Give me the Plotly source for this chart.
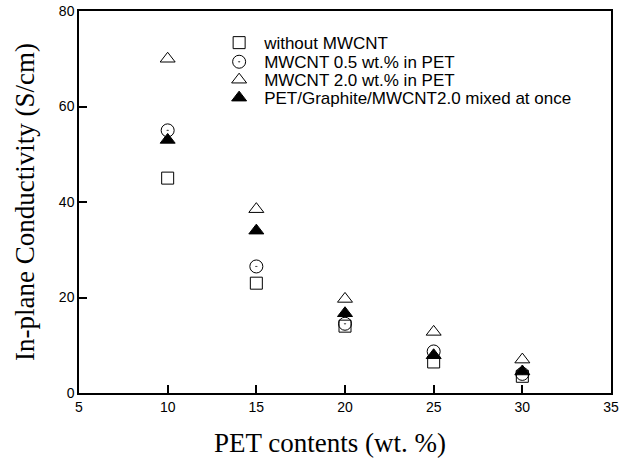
import plotly.graph_objects as go

pet = [10, 15, 20, 25, 30]
without_mwcnt = [45.0, 23.0, 14.0, 6.5, 3.5]
mwcnt_05 = [55.0, 26.5, 14.5, 8.7, 4.0]
mwcnt_20 = [70.0, 38.5, 19.7, 12.8, 7.0]
mixed_once = [53.0, 34.0, 16.7, 7.9, 4.5]

names = ["without MWCNT", "MWCNT 0.5 wt.% in PET", "MWCNT 2.0 wt.% in PET",
         "PET/Graphite/MWCNT2.0 mixed at once"]
symbols = ["square-open", "circle-open-dot", "triangle-up-open", "triangle-up"]
series = [without_mwcnt, mwcnt_05, mwcnt_20, mixed_once]
legend_ids = ["legend", "legend2", "legend3", "legend4"]
legend_rows = [0.916, 0.866, 0.819, 0.772]

fig = go.Figure()
for n, s, y, lg in zip(names, symbols, series, legend_ids):
    fig.add_trace(go.Scatter(
        x=pet, y=y, mode="markers", name=n, legend=lg,
        marker=dict(symbol=s, size=13 if "square" not in s else 12, color="black",
                    line=dict(color="black", width=1)),
    ))

legend_style = dict(x=0.254, xanchor="left", yanchor="middle",
                    bgcolor="rgba(0,0,0,0)",
                    font=dict(family="Arial, Liberation Sans", size=17, color="black"),
                    itemwidth=40)

fig.update_layout(
    width=625, height=465,
    margin=dict(l=79, r=14, t=11, b=72),
    plot_bgcolor="white", paper_bgcolor="white",
    showlegend=True,
    legend=dict(y=legend_rows[0], **legend_style),
    legend2=dict(y=legend_rows[1], **legend_style),
    legend3=dict(y=legend_rows[2], **legend_style),
    legend4=dict(y=legend_rows[3], **legend_style),
    xaxis=dict(range=[5, 35], tickvals=[5, 10, 15, 20, 25, 30, 35], automargin=False,
               ticks="inside", ticklen=8, tickwidth=1.5, tickcolor="black",
               showline=True, linecolor="black", linewidth=1.5, mirror=True,
               showgrid=False, zeroline=False, ticklabeloverflow="allow",
               tickfont=dict(family="Arial, Liberation Sans", size=14, color="black")),
    yaxis=dict(range=[0, 80], tickvals=[0, 20, 40, 60, 80], automargin=False,
               ticks="inside", ticklen=8, tickwidth=1.5, tickcolor="black",
               showline=True, linecolor="black", linewidth=1.5, mirror=True,
               showgrid=False, zeroline=False, ticklabeloverflow="allow",
               tickfont=dict(family="Arial, Liberation Sans", size=14, color="black"),
               title=dict(text="In-plane Conductivity (S/cm)",
                          font=dict(family="Times New Roman, Liberation Serif", size=27, color="black"),
                          standoff=16)),
    annotations=[dict(text="PET contents (wt. %)", xref="paper", yref="paper",
                      x=0.472, y=-0.131, xanchor="center", yanchor="middle", showarrow=False,
                      font=dict(family="Times New Roman, Liberation Serif", size=27, color="black"))],
)

fig.write_html("out.html", config={"displayModeBar": False},
               post_script="document.body.style.margin='0';")
